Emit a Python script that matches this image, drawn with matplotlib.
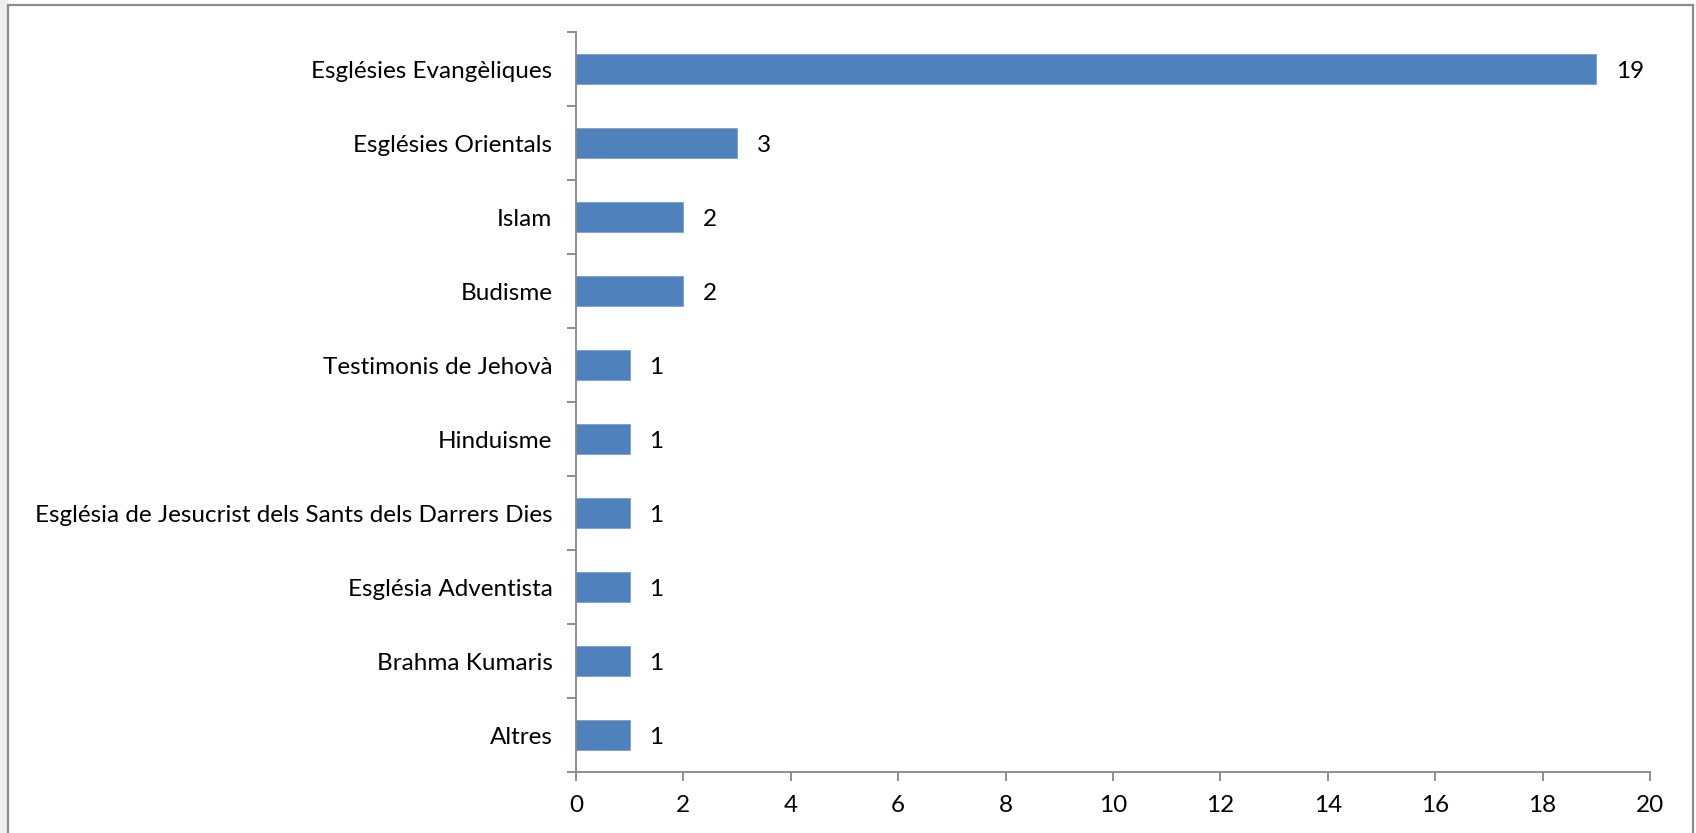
import matplotlib
matplotlib.use('Agg')
import matplotlib.pyplot as plt
from matplotlib.patches import Rectangle

categories = ['Esglésies Evangèliques', 'Esglésies Orientals', 'Islam', 'Budisme',
              'Testimonis de Jehovà', 'Hinduisme',
              'Església de Jesucrist dels Sants dels Darrers Dies',
              'Església Adventista', 'Brahma Kumaris', 'Altres']
values = [19, 3, 2, 2, 1, 1, 1, 1, 1, 1]
x_ticks = [0, 2, 4, 6, 8, 10, 12, 14, 16, 18, 20]

plt.rcParams['font.family'] = ['Lato', 'DejaVu Sans']

W, H = 1696, 833
fig = plt.figure(figsize=(W / 100, H / 100), dpi=100)

ax = fig.add_axes([576 / W, 1 - 772 / H, (1650 - 576) / W, (772 - 32) / H])
ax.set_facecolor('none')
ax.set_zorder(5)

# outer chart frame, as in the spreadsheet export
fig.add_artist(Rectangle((0, 0), 8 / W, 1, transform=fig.transFigure,
                         facecolor='#eeeeee', edgecolor='none', zorder=-10))
fig.add_artist(Rectangle((8 / W, -0.05), 1685 / W, 1.05 - 5 / H,
                         transform=fig.transFigure, facecolor='white',
                         edgecolor='#8c8c8c', linewidth=1.6, zorder=-10))

pos = list(range(len(categories)))
bars = ax.barh(pos, values, height=0.4, color='#4F81BD', edgecolor='#7a9fd0',
               linewidth=0.6)

ax.set_xlim(0, 20)
ax.set_ylim(len(categories) - 0.5, -0.5)
ax.set_xticks(x_ticks)
ax.set_yticks(pos)
ax.set_yticklabels(categories)
ax.set_yticks([p - 0.5 for p in pos] + [len(pos) - 0.5], minor=True)

grey = '#868686'
for s in ['top', 'right']:
    ax.spines[s].set_visible(False)
for s in ['left', 'bottom']:
    ax.spines[s].set_color(grey)
    ax.spines[s].set_linewidth(1.3)

fs = 17.5
ax.tick_params(axis='y', which='major', length=0, pad=17, labelsize=fs)
ax.tick_params(axis='y', which='minor', length=6.5, width=1.3, color=grey)
ax.tick_params(axis='x', which='major', length=6.5, width=1.3, color=grey,
               pad=10, labelsize=fs)

for b, v in zip(bars, values):
    ax.annotate(str(v), (b.get_width(), b.get_y() + b.get_height() / 2),
                xytext=(14, -2), textcoords='offset points',
                ha='left', va='center', fontsize=fs)

fig.savefig('out.png', dpi=100)
